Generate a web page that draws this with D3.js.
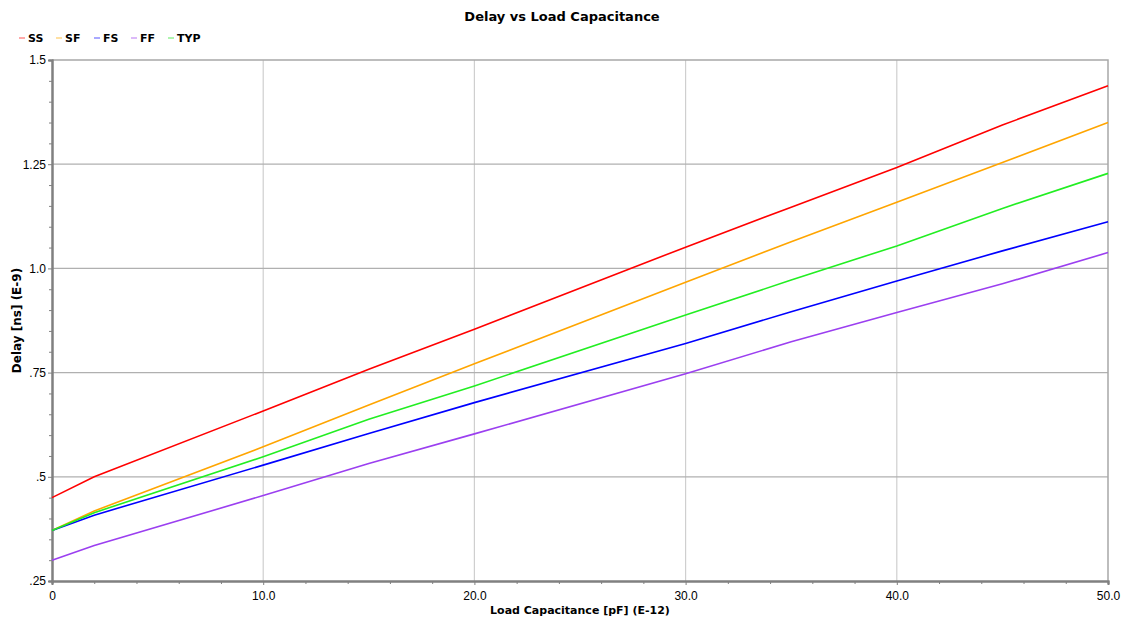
<!DOCTYPE html>
<html>
<head>
<meta charset="utf-8">
<script src="https://cdn.jsdelivr.net/npm/d3@7"></script>
<style>
  body { margin: 0; background: #fff; }
  svg { font-family: "DejaVu Sans", sans-serif; }
</style>
</head>
<body>
<div id="chart"></div>
<script>
// Load capacitance (pF, E-12) sample points
const loadCap = [0, 2, 10, 15, 20, 30, 35, 40, 45, 50];

// Delay in ns (E-9) for each corner
const delaySS  = [0.450, 0.500, 0.658, 0.758, 0.854, 1.051, 1.147, 1.242, 1.344, 1.438];
const delaySF  = [0.371, 0.418, 0.572, 0.672, 0.771, 0.967, 1.064, 1.159, 1.254, 1.350];
const delayFS  = [0.371, 0.408, 0.528, 0.604, 0.678, 0.820, 0.896, 0.970, 1.042, 1.112];
const delayFF  = [0.300, 0.335, 0.455, 0.532, 0.603, 0.747, 0.824, 0.894, 0.963, 1.038];
const delayTYP = [0.371, 0.414, 0.548, 0.638, 0.718, 0.888, 0.972, 1.054, 1.144, 1.228];

const seriesNames = ['SS', 'SF', 'FS', 'FF', 'TYP'];
const xTicks = [0, 10, 20, 30, 40, 50];
const xTickLabels = ['0', '10.0', '20.0', '30.0', '40.0', '50.0'];
const yTicks = [0.25, 0.5, 0.75, 1.0, 1.25, 1.5];
const yTickLabels = ['.25', '.5', '.75', '1.0', '1.25', '1.5'];

const colors = {SS: '#ff0000', SF: '#ffa500', FS: '#0000ff', FF: '#9b3ff0', TYP: '#22ee22'};
const legendColors = {SS: '#ff7070', SF: '#ffcc66', FS: '#7070ff', FF: '#c48cf5', TYP: '#77ee77'};

const series = [delaySS, delaySF, delayFS, delayFF, delayTYP].map((vals, i) => ({
  name: seriesNames[i],
  values: vals.map((v, j) => ({x: loadCap[j], y: v}))
}));

const width = 1128, height = 621;
const margin = {top: 60, right: 20, bottom: 40, left: 52};

const svg = d3.select('#chart').append('svg')
    .attr('width', width)
    .attr('height', height);

const x = d3.scaleLinear().domain([0, 50]).range([margin.left, width - margin.right]);
const y = d3.scaleLinear().domain([0.25, 1.5]).range([height - margin.bottom, margin.top]);

// Gridlines
svg.append('g')
    .selectAll('line')
    .data(xTicks.slice(1, -1))
    .join('line')
    .attr('x1', d => x(d)).attr('x2', d => x(d))
    .attr('y1', y(1.5)).attr('y2', y(0.25))
    .attr('stroke', '#cfcfcf')
    .attr('stroke-width', 1.2);

svg.append('g')
    .selectAll('line')
    .data(yTicks.slice(1, -1))
    .join('line')
    .attr('x1', x(0)).attr('x2', x(50))
    .attr('y1', d => y(d)).attr('y2', d => y(d))
    .attr('stroke', '#b0b0b0')
    .attr('stroke-width', 1.2);

// Frame top / right
svg.append('path')
    .attr('d', `M${x(0)},${y(1.5)}H${x(50)}V${y(0.25)}`)
    .attr('fill', 'none')
    .attr('stroke', '#a8a8a8')
    .attr('stroke-width', 1.5);

// Axes
const xAxis = d3.axisBottom(x)
    .tickValues(xTicks)
    .tickFormat((d, i) => xTickLabels[i])
    .tickSize(4)
    .tickPadding(6);
const xMinor = d3.axisBottom(x)
    .tickValues(d3.range(0, 51, 2).filter(d => d % 10 !== 0))
    .tickFormat('')
    .tickSize(3);

const yAxis = d3.axisLeft(y)
    .tickValues(yTicks)
    .tickFormat((d, i) => yTickLabels[i])
    .tickSize(4)
    .tickPadding(2);
const yMinor = d3.axisLeft(y)
    .tickValues(d3.range(0.25, 1.5001, 0.05).filter(d => Math.abs(d * 4 - Math.round(d * 4)) > 1e-6))
    .tickFormat('')
    .tickSize(3);

function styleAxis(g) {
  g.select('.domain').attr('stroke', '#808080').attr('stroke-width', 2);
  g.selectAll('.tick line').attr('stroke', '#808080');
  g.selectAll('.tick text').attr('fill', '#000').style('font-size', '12px');
}

svg.append('g')
    .attr('transform', `translate(0,${y(0.25)})`)
    .call(xMinor).call(styleAxis);
svg.append('g')
    .attr('transform', `translate(0,${y(0.25)})`)
    .call(xAxis).call(styleAxis);
svg.append('g')
    .attr('transform', `translate(${x(0)},0)`)
    .call(yMinor).call(styleAxis);
svg.append('g')
    .attr('transform', `translate(${x(0)},0)`)
    .call(yAxis).call(styleAxis);

// Lines
const line = d3.line().x(d => x(d.x)).y(d => y(d.y));
svg.append('g')
    .selectAll('path')
    .data(series)
    .join('path')
    .attr('d', d => line(d.values))
    .attr('fill', 'none')
    .attr('stroke', d => colors[d.name])
    .attr('stroke-width', 1.6);

// Title
svg.append('text')
    .attr('x', 562).attr('y', 21)
    .attr('text-anchor', 'middle')
    .style('font-size', '13px')
    .style('font-weight', 'bold')
    .text('Delay vs Load Capacitance');

// Axis titles
svg.append('text')
    .attr('x', (x(0) + x(50)) / 2).attr('y', 614)
    .attr('text-anchor', 'middle')
    .style('font-size', '11px')
    .style('font-weight', 'bold')
    .text('Load Capacitance [pF] (E-12)');

svg.append('text')
    .attr('transform', `translate(21,${(y(1.5) + y(0.25)) / 2}) rotate(-90)`)
    .attr('text-anchor', 'middle')
    .style('font-size', '12px')
    .style('font-weight', 'bold')
    .text('Delay [ns] (E-9)');

// Legend
const legendX = [19, 56, 94, 131, 168];
const legend = svg.append('g')
    .selectAll('g')
    .data(seriesNames)
    .join('g')
    .attr('transform', (d, i) => `translate(${legendX[i]},38)`);
legend.append('line')
    .attr('x1', 0).attr('x2', 6)
    .attr('stroke', d => legendColors[d])
    .attr('stroke-width', 1.2);
legend.append('text')
    .attr('x', 9).attr('y', 4)
    .style('font-size', '11px')
    .style('font-weight', 'bold')
    .text(d => d);
</script>
</body>
</html>
